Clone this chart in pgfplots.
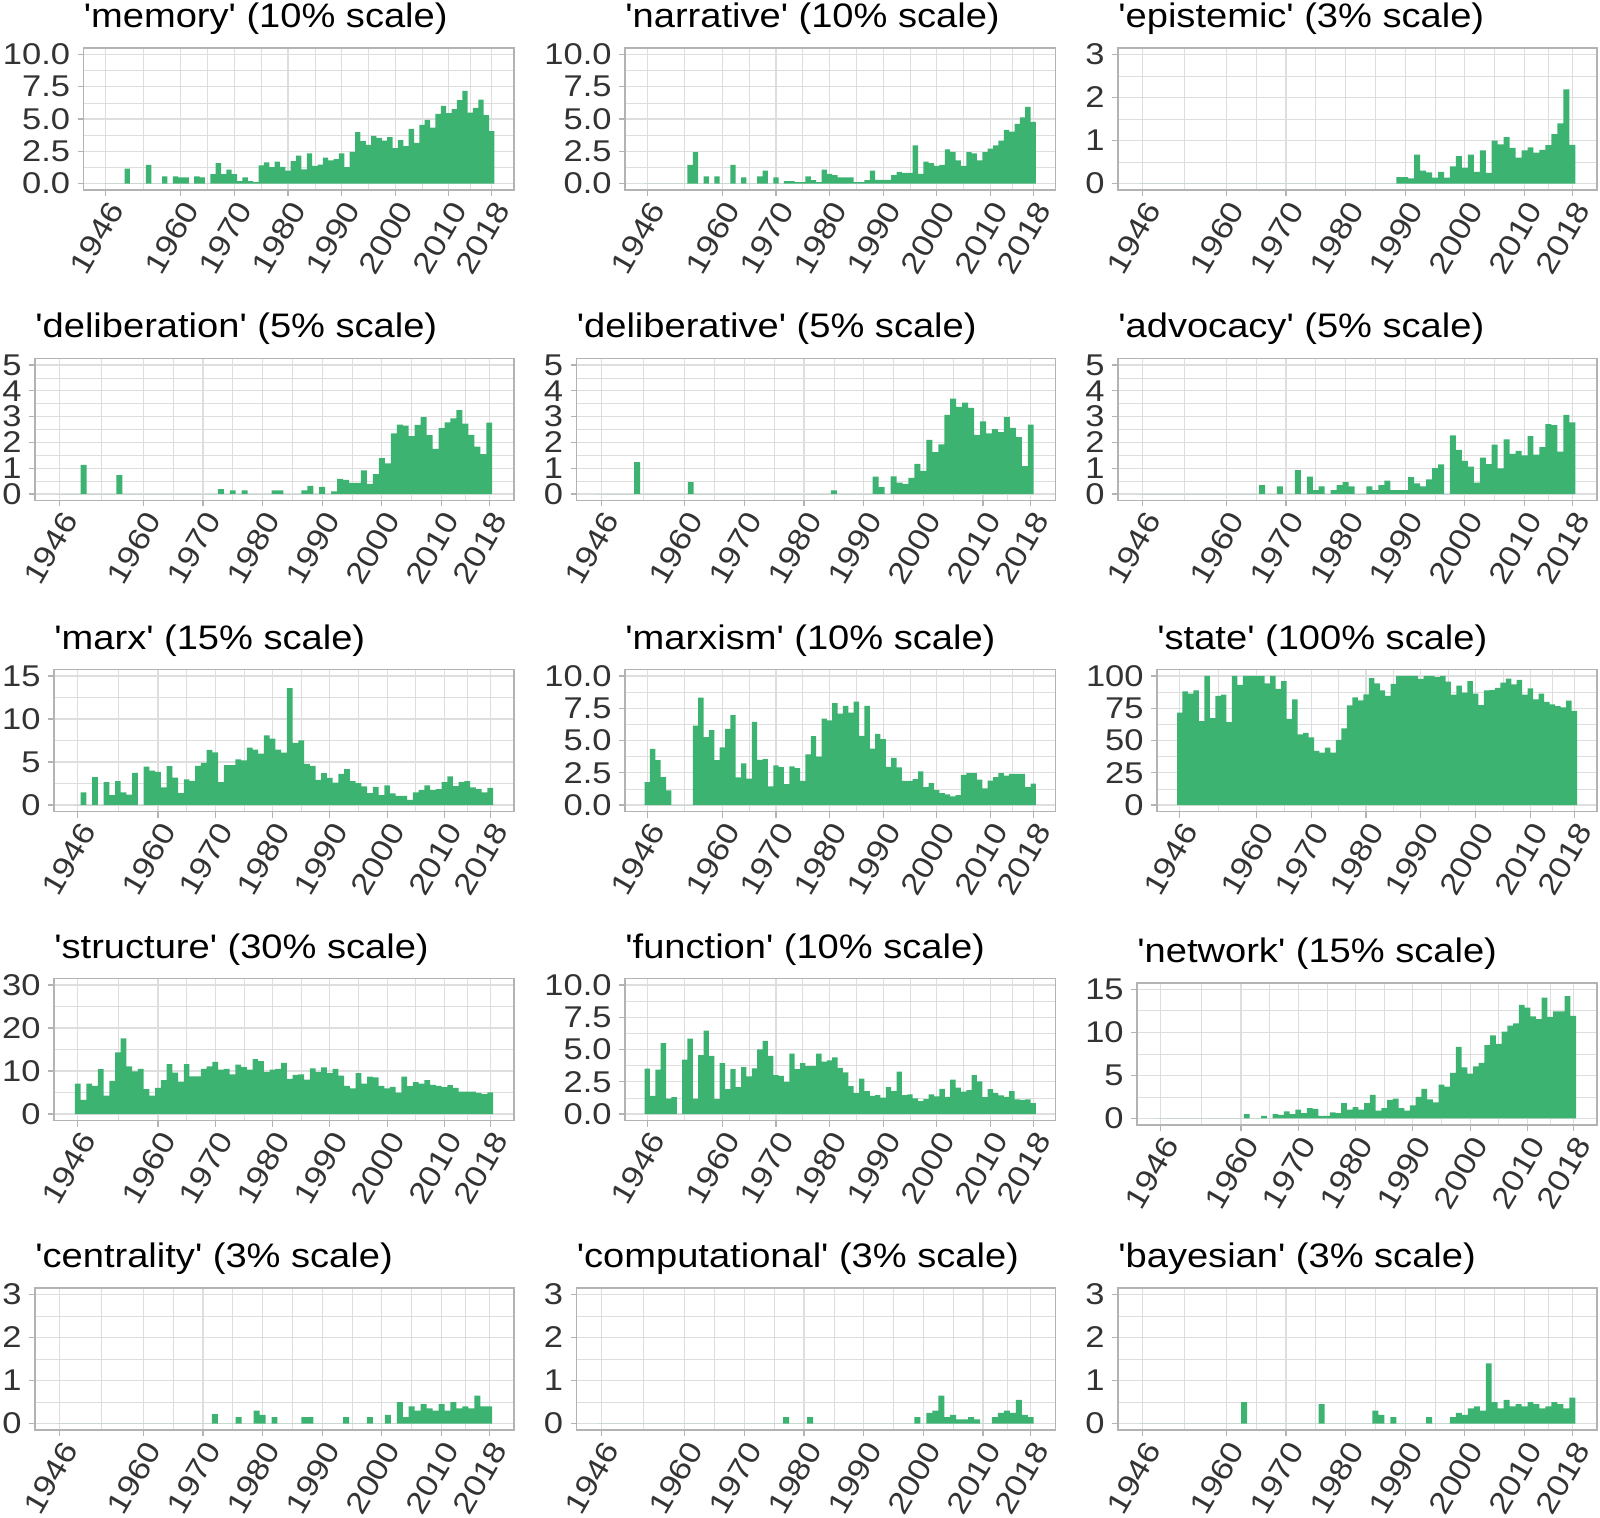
\documentclass[border=0pt]{standalone}
\usepackage{pgfplots}
\pgfplotsset{compat=1.18}
\usepackage{pgfplotstable}
\usepackage{fontspec}
\newfontfamily\lib{Liberation Sans}
\newfontfamily\libw{Liberation Sans}[FakeStretch=1.15]
\newfontfamily\libt{Liberation Sans}[FakeStretch=1.12]

\definecolor{barc}{HTML}{3CB371}
\definecolor{gridc}{HTML}{DEDEDE}
\definecolor{framec}{HTML}{B3B3B3}
\definecolor{tickc}{HTML}{333333}

% x = left edge of each yearly bin, last row closes the last bin
% row 1: memory, narrative, epistemic
\pgfplotstableread{
x a b c
1945.5 0 0 0
1946.5 0 0 0
1947.5 0 0 0
1948.5 0 0 0
1949.5 1.16 0 0
1950.5 0 0 0
1951.5 0 0 0
1952.5 0 0 0
1953.5 1.45 1.45 0
1954.5 0 2.43 0
1955.5 0 0 0
1956.5 0.55 0.55 0
1957.5 0 0 0
1958.5 0.55 0.55 0
1959.5 0.47 0 0
1960.5 0.47 0 0
1961.5 0 1.45 0
1962.5 0.55 0 0
1963.5 0.47 0.47 0
1964.5 0 0 0
1965.5 0.72 0 0
1966.5 1.58 0.55 0
1967.5 0.72 1.0 0
1968.5 1.08 0 0
1969.5 0.72 0.47 0
1970.5 0.18 0 0
1971.5 0.47 0.18 0
1972.5 0.18 0.18 0
1973.5 0.1 0.1 0
1974.5 1.4 0.1 0
1975.5 1.63 0.55 0
1976.5 1.27 0.26 0
1977.5 1.7 0.1 0
1978.5 1.3 1.08 0
1979.5 1.0 0.75 0
1980.5 1.73 0.65 0
1981.5 2.17 0.47 0
1982.5 1.1 0.47 0
1983.5 2.33 0.47 0
1984.5 1.37 0.1 0
1985.5 1.47 0.1 0
1986.5 2.0 0.26 0
1987.5 1.8 1.0 0
1988.5 1.9 0.28 0.15
1989.5 2.33 0.28 0.15
1990.5 1.27 0.28 0.12
1991.5 2.45 0.65 0.67
1992.5 3.98 0.9 0.3
1993.5 3.28 0.83 0.26
1994.5 3.0 0.83 0.14
1995.5 3.7 2.95 0.27
1996.5 3.54 0.75 0.14
1997.5 3.33 1.7 0.4
1998.5 3.6 1.58 0.64
1999.5 2.74 1.37 0.37
2000.5 3.36 1.45 0.67
2001.5 2.9 2.64 0.27
2002.5 4.24 2.45 0.77
2003.5 3.15 1.8 0.25
2004.5 4.55 1.37 1.0
2005.5 4.94 2.43 0.91
2006.5 4.34 2.33 1.08
2007.5 5.4 1.8 0.83
2008.5 6.02 2.43 0.6
2009.5 5.45 2.71 0.77
2010.5 5.76 2.95 0.84
2011.5 6.46 3.33 0.72
2012.5 7.18 4.16 0.78
2013.5 5.5 4.03 0.89
2014.5 5.87 4.63 1.15
2015.5 6.51 5.12 1.4
2016.5 5.3 5.94 2.19
2017.5 4.06 4.78 0.9
2018.5 0 0 0
}\rowA

% row 2: deliberation, deliberative, advocacy
\pgfplotstableread{
x a b c
1945.5 0 0 0
1946.5 0 0 0
1947.5 0 0 0
1948.5 0 0 0
1949.5 1.13 0 0
1950.5 0 0 0
1951.5 0 1.24 0
1952.5 0 0 0
1953.5 0 0 0
1954.5 0 0 0
1955.5 0.73 0 0
1956.5 0 0 0
1957.5 0 0 0
1958.5 0 0 0
1959.5 0 0 0
1960.5 0 0.46 0
1961.5 0 0 0
1962.5 0 0 0
1963.5 0 0 0
1964.5 0 0 0
1965.5 0 0 0.35
1966.5 0 0 0
1967.5 0 0 0
1968.5 0 0 0.3
1969.5 0 0 0
1970.5 0 0 0
1971.5 0 0 0.93
1972.5 0.19 0 0
1973.5 0 0 0.67
1974.5 0.14 0 0.15
1975.5 0 0 0.3
1976.5 0.14 0 0
1977.5 0 0 0.15
1978.5 0 0 0.35
1979.5 0 0 0.46
1980.5 0 0 0.3
1981.5 0.14 0 0
1982.5 0.14 0 0
1983.5 0 0 0.3
1984.5 0 0.14 0.15
1985.5 0 0 0.35
1986.5 0.14 0 0.52
1987.5 0.32 0 0.15
1988.5 0 0 0.15
1989.5 0.28 0 0.15
1990.5 0 0 0.66
1991.5 0.1 0.67 0.41
1992.5 0.59 0.27 0.3
1993.5 0.55 0 0.57
1994.5 0.43 0.68 1.0
1995.5 0.43 0.44 1.15
1996.5 0.92 0.39 0
1997.5 0.39 0.63 2.27
1998.5 0.77 1.17 1.71
1999.5 1.39 0.9 1.28
2000.5 1.19 2.1 1.06
2001.5 2.35 1.62 0.44
2002.5 2.69 1.92 1.41
2003.5 2.65 3.07 1.16
2004.5 2.24 3.7 1.91
2005.5 2.68 3.38 0.99
2006.5 2.98 3.54 2.12
2007.5 2.28 3.34 1.56
2008.5 1.75 2.29 1.67
2009.5 2.55 2.81 1.5
2010.5 2.78 2.35 2.24
2011.5 2.93 2.51 1.53
2012.5 3.25 2.4 1.82
2013.5 2.73 2.98 2.71
2014.5 2.29 2.56 2.67
2015.5 1.84 2.2 1.64
2016.5 1.55 1.08 3.07
2017.5 2.77 2.69 2.78
2018.5 0 0 0
}\rowB

% row 3: marx, marxism, state
\pgfplotstableread{
x a b c
1945.5 0 1.78 71.6
1946.5 1.47 4.36 88.1
1947.5 0 3.48 86.3
1948.5 3.24 2.16 88.9
1949.5 0 1.13 65.1
1950.5 2.66 0 100
1951.5 1.16 0 67.4
1952.5 2.78 0 84.5
1953.5 1.47 0 85.5
1954.5 1.2 6.16 64.3
1955.5 3.74 8.32 100
1956.5 0 5.26 93
1957.5 4.47 5.8 100
1958.5 4.0 3.48 100
1959.5 3.86 4.46 100
1960.5 2.04 5.9 100
1961.5 4.51 6.96 94.3
1962.5 3.2 2.14 100
1963.5 1.39 3.22 90
1964.5 2.97 2.04 96
1965.5 2.82 6.44 66.7
1966.5 4.55 3.5 81.9
1967.5 4.9 3.56 54.8
1968.5 6.4 1.44 56
1969.5 6.13 3.07 52.5
1970.5 2.66 2.94 41.9
1971.5 4.63 1.62 40.6
1972.5 4.63 3.0 44.4
1973.5 5.32 2.86 40.6
1974.5 5.2 1.88 50.4
1975.5 6.67 3.92 59.4
1976.5 6.44 5.34 77.3
1977.5 5.98 3.76 83.5
1978.5 8.1 6.7 81.1
1979.5 7.71 6.55 85.8
1980.5 6.44 7.89 98.4
1981.5 6.09 7.09 94.3
1982.5 13.6 7.68 88.9
1983.5 7.21 7.16 84.5
1984.5 7.52 8.02 93.8
1985.5 4.78 5.36 100
1986.5 4.55 7.68 100
1987.5 2.93 4.38 100
1988.5 3.7 5.52 100
1989.5 3.16 5.1 97.7
1990.5 2.62 2.96 100
1991.5 3.63 3.66 100
1992.5 4.16 2.91 99
1993.5 2.78 1.88 100
1994.5 2.55 1.88 95.6
1995.5 2.16 2.0 85.5
1996.5 1.39 2.6 92.5
1997.5 2.12 1.39 87
1998.5 1.16 1.7 96
1999.5 2.28 1.16 86.3
2000.5 1.35 0.93 77.5
2001.5 1.08 0.82 88.9
2002.5 1.08 0.67 89.1
2003.5 0.6 0.77 90.7
2004.5 1.47 2.34 94.8
2005.5 1.77 2.47 98
2006.5 2.28 2.47 93.5
2007.5 1.77 1.96 96.9
2008.5 1.85 1.29 85.5
2009.5 2.66 1.9 90.4
2010.5 3.32 2.16 81.9
2011.5 2.2 2.47 86.3
2012.5 2.66 2.27 80
2013.5 2.78 2.42 78
2014.5 2.04 2.42 76.7
2015.5 1.85 2.42 75.7
2016.5 1.47 1.39 80.9
2017.5 2.0 1.65 73
2018.5 0 0 0
}\rowC

% row 4: structure, function, network
\pgfplotstableread{
x a b c
1945.5 7.1 3.51 0
1946.5 3.3 1.4 0
1947.5 7.1 3.44 0
1948.5 6.56 5.5 0
1949.5 10.46 1.19 0
1950.5 4.27 1.32 0
1951.5 7.7 0 0
1952.5 14.35 4.21 0
1953.5 17.56 5.84 0
1954.5 11.07 1.19 0
1955.5 9.92 4.57 0
1956.5 10.5 6.46 0
1957.5 5.8 4.5 0
1958.5 4.27 1.16 0
1959.5 6.1 3.95 0
1960.5 7.86 1.94 0.5
1961.5 11.6 3.49 0
1962.5 9.6 2.09 0
1963.5 7.56 3.64 0.3
1964.5 11.6 2.92 0
1965.5 8.78 3.54 0.5
1966.5 8.78 5.01 0.4
1967.5 10.5 5.66 0.8
1968.5 11.07 4.5 0.5
1969.5 12.14 3.02 1.0
1970.5 10.3 2.95 0.6
1971.5 10.5 2.5 1.2
1972.5 9.24 4.68 1.1
1973.5 11.5 3.49 0.3
1974.5 10.9 3.95 0.3
1975.5 10.3 3.72 0.7
1976.5 12.75 3.72 0.6
1977.5 12.3 4.68 1.77
1978.5 9.77 4.06 1.0
1979.5 10.3 4.16 1.3
1980.5 10.5 4.39 1.0
1981.5 11.9 3.57 1.77
1982.5 8.17 3.23 2.73
1983.5 9.1 2.17 0.9
1984.5 9.24 1.65 1.2
1985.5 8.0 2.74 2.15
1986.5 10.6 1.78 2.3
1987.5 9.77 1.4 1.2
1988.5 10.84 1.47 0.9
1989.5 9.54 1.27 1.5
1990.5 10.5 2.09 2.5
1991.5 8.93 1.78 3.42
1992.5 6.56 3.28 2.2
1993.5 5.95 1.47 1.85
1994.5 9.54 1.52 3.92
1995.5 7.1 1.21 3.7
1996.5 8.7 1.0 5.27
1997.5 8.55 1.16 8.3
1998.5 6.56 1.52 5.92
1999.5 5.95 1.37 5.2
2000.5 6.34 1.96 6.04
2001.5 4.96 1.34 6.46
2002.5 8.7 2.66 8.5
2003.5 6.49 2.04 9.65
2004.5 7.4 1.73 8.65
2005.5 7.1 1.86 10.08
2006.5 7.86 3.02 10.77
2007.5 6.8 2.53 11.04
2008.5 6.56 1.32 13.2
2009.5 6.26 1.94 12.88
2010.5 6.7 1.65 11.85
2011.5 6.1 1.45 11.54
2012.5 5.2 1.34 14.04
2013.5 5.2 1.78 11.8
2014.5 5.2 1.14 12.42
2015.5 4.9 1.09 12.42
2016.5 4.66 1.14 14.2
2017.5 5.04 0.85 11.9
2018.5 0 0 0
}\rowD

% row 5: centrality, computational, bayesian
\pgfplotstableread{
x a b c
1945.5 0 0 0
1946.5 0 0 0
1947.5 0 0 0
1948.5 0 0 0
1949.5 0 0 0
1950.5 0 0 0
1951.5 0 0 0
1952.5 0 0 0
1953.5 0 0 0
1954.5 0 0 0
1955.5 0 0 0
1956.5 0 0 0
1957.5 0 0 0
1958.5 0 0 0
1959.5 0 0 0
1960.5 0 0 0
1961.5 0 0 0
1962.5 0 0 0.5
1963.5 0 0 0
1964.5 0 0 0
1965.5 0 0 0
1966.5 0 0 0
1967.5 0 0 0
1968.5 0 0 0
1969.5 0 0 0
1970.5 0 0 0
1971.5 0.22 0 0
1972.5 0 0 0
1973.5 0 0 0
1974.5 0 0 0
1975.5 0.15 0 0.45
1976.5 0 0.15 0
1977.5 0 0 0
1978.5 0.3 0 0
1979.5 0.2 0 0
1980.5 0 0.15 0
1981.5 0.15 0 0
1982.5 0 0 0
1983.5 0 0 0
1984.5 0 0 0.3
1985.5 0 0 0.2
1986.5 0.15 0 0
1987.5 0.15 0 0.15
1988.5 0 0 0
1989.5 0 0 0
1990.5 0 0 0
1991.5 0 0 0
1992.5 0 0 0
1993.5 0.15 0 0.15
1994.5 0 0 0
1995.5 0 0 0
1996.5 0 0 0
1997.5 0.15 0 0.15
1998.5 0 0.15 0.25
1999.5 0 0 0.2
2000.5 0.2 0.25 0.35
2001.5 0 0.3 0.4
2002.5 0.5 0.65 0.3
2003.5 0.15 0.15 1.4
2004.5 0.4 0.2 0.5
2005.5 0.3 0.1 0.35
2006.5 0.45 0.1 0.55
2007.5 0.35 0.15 0.4
2008.5 0.3 0.1 0.45
2009.5 0.45 0 0.4
2010.5 0.3 0 0.5
2011.5 0.5 0.15 0.45
2012.5 0.35 0.25 0.35
2013.5 0.4 0.3 0.4
2014.5 0.35 0.25 0.5
2015.5 0.65 0.55 0.45
2016.5 0.4 0.2 0.35
2017.5 0.4 0.15 0.6
2018.5 0 0 0
}\rowE

\pgfplotsset{
  panel/.style={
    scale only axis, height=71pt, anchor=north east,
    xmin=1941.85, xmax=2022.15,
    xtick={1946,1960,1970,1980,1990,2000,2010,2018},
    xticklabels={1946,1960,1970,1980,1990,2000,2010,2018},
    minor xtick={1953,1965,1975,1985,1995,2005,2014},
    grid=both,
    major grid style={gridc, line width=0.6pt},
    minor grid style={gridc, line width=0.3pt},
    axis line style={framec, line width=0.9pt},
    tick style={framec, line width=0.6pt},
    major tick length=3pt, minor tick length=0pt,
    tick align=outside, tick pos=left,
    ticklabel style={font=\libw\fontsize{15}{15}\selectfont, text=tickc},
    xticklabel style={rotate=60, anchor=north east, inner sep=1pt},
    yticklabel style={inner sep=1pt, xshift=-2.5pt},
    title style={font=\libt\fontsize{17}{17}\selectfont, anchor=base west,
      at={(0,1)}, yshift=4.25pt, inner sep=0pt},
  },
  bars/.style={ybar interval=1.02, fill=barc, draw=none},
  s10/.style={width=215.25pt, ymin=-0.5, ymax=10.5, ytick={0,2.5,5,7.5,10},
    minor ytick={1.25,3.75,6.25,8.75}, yticklabels={0.0,2.5,5.0,7.5,10.0}},
  s3/.style={width=239.5pt, ymin=-0.15, ymax=3.15, ytick={0,1,2,3},
    minor ytick={0.5,1.5,2.5}, yticklabels={0,1,2,3}},
  s5/.style={width=239.5pt, ymin=-0.25, ymax=5.25, ytick={0,1,2,3,4,5},
    minor ytick={0.5,1.5,2.5,3.5,4.5}, yticklabels={0,1,2,3,4,5}},
  s15/.style={width=230pt, ymin=-0.75, ymax=15.75, ytick={0,5,10,15},
    minor ytick={2.5,7.5,12.5}, yticklabels={0,5,10,15}},
  s30/.style={width=230pt, ymin=-1.5, ymax=31.5, ytick={0,10,20,30},
    minor ytick={5,15,25}, yticklabels={0,10,20,30}},
  s100/.style={width=220pt, ymin=-5, ymax=105, ytick={0,25,50,75,100},
    minor ytick={12.5,37.5,62.5,87.5}, yticklabels={0,25,50,75,100}},
}

\begin{document}
\begin{tikzpicture}
\path[use as bounding box] (0,0) rectangle (800pt,-759pt);

% row 1
\begin{axis}[panel, s10, at={(257pt,-24pt)}, title={'memory' (10\% scale)}]
\addplot[bars] table[x=x, y=a] {\rowA};
\end{axis}
\begin{axis}[panel, s10, at={(527.75pt,-24pt)}, title={'narrative' (10\% scale)}]
\addplot[bars] table[x=x, y=b] {\rowA};
\end{axis}
\begin{axis}[panel, s3, at={(798.5pt,-24pt)}, title={'epistemic' (3\% scale)}]
\addplot[bars] table[x=x, y=c] {\rowA};
\end{axis}

% row 2
\begin{axis}[panel, s5, at={(257pt,-179.25pt)}, title={'deliberation' (5\% scale)}]
\addplot[bars] table[x=x, y=a] {\rowB};
\end{axis}
\begin{axis}[panel, s5, at={(527.75pt,-179.25pt)}, title={'deliberative' (5\% scale)}]
\addplot[bars] table[x=x, y=b] {\rowB};
\end{axis}
\begin{axis}[panel, s5, at={(798.5pt,-179.25pt)}, title={'advocacy' (5\% scale)}]
\addplot[bars] table[x=x, y=c] {\rowB};
\end{axis}

% row 3
\begin{axis}[panel, s15, at={(257pt,-334.75pt)}, title={'marx' (15\% scale)}]
\addplot[bars] table[x=x, y=a] {\rowC};
\end{axis}
\begin{axis}[panel, s10, at={(527.75pt,-334.75pt)}, title={'marxism' (10\% scale)}]
\addplot[bars] table[x=x, y=b] {\rowC};
\end{axis}
\begin{axis}[panel, s100, at={(798.5pt,-334.75pt)}, title={'state' (100\% scale)}]
\addplot[bars] table[x=x, y=c] {\rowC};
\end{axis}

% row 4
\begin{axis}[panel, s30, at={(257pt,-489.25pt)}, title={'structure' (30\% scale)}]
\addplot[bars] table[x=x, y=a] {\rowD};
\end{axis}
\begin{axis}[panel, s10, at={(527.75pt,-489.25pt)}, title={'function' (10\% scale)}]
\addplot[bars] table[x=x, y=b] {\rowD};
\end{axis}
\begin{axis}[panel, s15, at={(798.5pt,-491.4pt)}, title={'network' (15\% scale)}]
\addplot[bars] table[x=x, y=c] {\rowD};
\end{axis}

% row 5
\begin{axis}[panel, s3, at={(257pt,-644pt)}, title={'centrality' (3\% scale)}]
\addplot[bars] table[x=x, y=a] {\rowE};
\end{axis}
\begin{axis}[panel, s3, at={(527.75pt,-644pt)}, title={'computational' (3\% scale)}]
\addplot[bars] table[x=x, y=b] {\rowE};
\end{axis}
\begin{axis}[panel, s3, at={(798.5pt,-644pt)}, title={'bayesian' (3\% scale)}]
\addplot[bars] table[x=x, y=c] {\rowE};
\end{axis}
\end{tikzpicture}
\end{document}
